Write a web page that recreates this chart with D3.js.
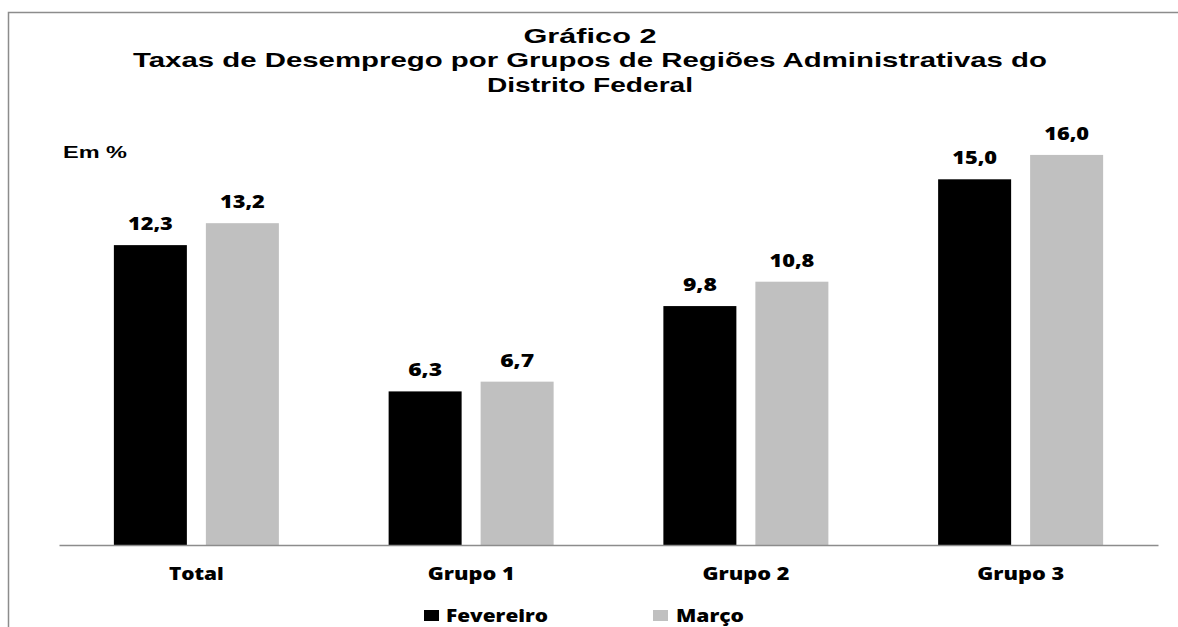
<!DOCTYPE html>
<html><head><meta charset="utf-8">
<script src="https://cdn.jsdelivr.net/npm/d3@7"></script>
<style>html,body{margin:0;padding:0;background:#fff;}svg{display:block;}</style>
</head><body>
<svg id="c" width="1178" height="627"></svg>
<script>
const categories = ["Total", "Grupo 1", "Grupo 2", "Grupo 3"];
const seriesNames = ["Fevereiro", "Março"];
const fevereiro = [12.3, 6.3, 9.8, 15.0];
const marco = [13.2, 6.7, 10.8, 16.0];
const titleLines = ["Gráfico 2", "Taxas de Desemprego por Grupos de Regiões Administrativas do", "Distrito Federal"];
const unitLabel = "Em %";

const svg = d3.select("#c");
const colors = ["#000000", "#c0c0c0"];
const values = [fevereiro, marco];

// frame
svg.append("path").attr("d", "M8.5,627 L8.5,12.5 L1178,12.5")
  .attr("fill", "none").attr("stroke", "#8c8c8c").attr("stroke-width", 1.5);

const x = d3.scaleBand().domain(categories).range([59, 1158]).paddingInner(0).paddingOuter(0);
const inner = d3.scaleBand().domain(seriesNames).range([0, 165]).paddingInner(19/92).paddingOuter(0);
const y = d3.scaleLinear().domain([0, 18]).range([545, 545 - 18 * 24.38]);

// title
const tl = [{w:133,b:42.5},{w:914,b:67},{w:206,b:92}];
titleLines.forEach((t, i) => {
  svg.append("text").attr("x", 590).attr("y", tl[i].b)
    .attr("text-anchor", "middle")
    .attr("font-family", "Liberation Sans, Arial, sans-serif")
    .attr("font-weight", "bold").attr("font-size", 20.5)
    .attr("textLength", tl[i].w).attr("lengthAdjust", "spacingAndGlyphs")
    .text(t);
});

svg.append("text").attr("x", 63).attr("y", 158)
  .attr("font-family", "Liberation Sans, Arial, sans-serif")
  .attr("font-weight", "bold").attr("font-size", 17)
  .attr("textLength", 64).attr("lengthAdjust", "spacingAndGlyphs")
  .text(unitLabel);

const labelFont = "Open Sans, DejaVu Sans, sans-serif";

const groups = svg.append("g").selectAll("g").data(categories).join("g")
  .attr("transform", d => `translate(${x(d) + x.bandwidth()/2 - 82.5},0)`);

seriesNames.forEach((s, si) => {
  groups.append("rect")
    .attr("x", inner(s))
    .attr("width", inner.bandwidth())
    .attr("y", (d, i) => y(values[si][i]))
    .attr("height", (d, i) => y(0) - y(values[si][i]))
    .attr("fill", colors[si]);
  groups.append("text")
    .attr("x", inner(s) + inner.bandwidth()/2)
    .attr("y", (d, i) => y(values[si][i]) - 15)
    .attr("text-anchor", "middle")
    .attr("font-family", labelFont).attr("font-weight", 800).attr("font-size", 17)
    .attr("textLength", (d, i) => values[si][i] >= 10 ? 45 : 34)
    .attr("lengthAdjust", "spacingAndGlyphs")
    .text((d, i) => values[si][i].toFixed(1).replace(".", ","));
});

// axis
const axis = svg.append("g").attr("transform", `translate(0,${y(0)})`)
  .call(d3.axisBottom(x).tickSize(0).tickPadding(0));
axis.select(".domain").attr("stroke", "#8c8c8c").attr("stroke-width", 1.5);
axis.selectAll(".tick text")
  .attr("y", 35).attr("dy", 0)
  .attr("font-family", labelFont).attr("font-weight", 800).attr("font-size", 17)
  .attr("fill", "#000")
  .attr("textLength", d => d === "Total" ? 55 : 87)
  .attr("lengthAdjust", "spacingAndGlyphs");

// legend
const leg = [{sx:424, tx:446, w:102}, {sx:653, tx:676, w:68}];
seriesNames.forEach((s, si) => {
  svg.append("rect").attr("x", leg[si].sx).attr("y", 610).attr("width", 15).attr("height", 11)
    .attr("fill", colors[si]);
  svg.append("text").attr("x", leg[si].tx).attr("y", 622)
    .attr("font-family", labelFont).attr("font-weight", 800).attr("font-size", 17)
    .attr("textLength", leg[si].w).attr("lengthAdjust", "spacingAndGlyphs")
    .text(s);
});
</script>
</body></html>
